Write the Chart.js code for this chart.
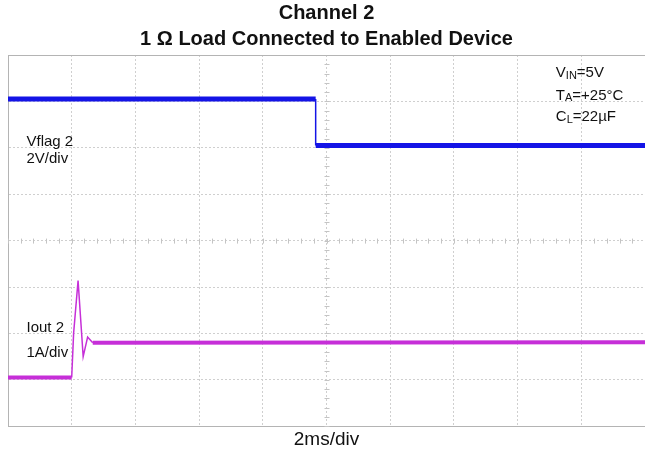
<!DOCTYPE html>
<html><head><meta charset="utf-8">
<script src="https://cdn.jsdelivr.net/npm/chart.js@4.4.0/dist/chart.umd.min.js"></script>
<style>html,body{margin:0;padding:0;background:#fff}#wrap{width:645px;height:455px;position:relative}</style>
</head><body><div id="wrap"><canvas id="c"></canvas></div>
<script>
const titleLines = ['Channel 2', '1 Ω Load Connected to Enabled Device'];
const xAxisLabel = '2ms/div';
// horizontal: time in divisions (2 ms/div); vertical: screen divisions
const vflagTime  = [0, 4.83, 4.83, 10];
const vflagLevel = [7.05, 7.05, 6.05, 6.05];
const ioutTime   = [0, 1.0, 1.03, 1.10, 1.18, 1.25, 1.33, 10];
const ioutLevel  = [1.05, 1.05, 2.0, 3.14, 1.50, 1.92, 1.80, 1.81];
const xRange = [0, 10];
const yRange = [0, 8];

const pts = (xs, ys) => xs.map((x, i) => ({x, y: ys[i]}));
const FONT = 'Arial, "Liberation Sans", sans-serif';

const frame = {
  id: 'frame',
  beforeDatasetsDraw(chart) {
    const {ctx, chartArea: a, scales: {x, y}} = chart;
    ctx.save();
    // center crosshair minor ticks
    ctx.strokeStyle = '#c4c4c4'; ctx.lineWidth = 1;
    const cx = x.getPixelForValue(5), cy = y.getPixelForValue(4);
    for (let v = xRange[0]; v <= xRange[1] + 1e-9; v += 0.2) {
      const px = Math.round(x.getPixelForValue(v)) + 0.5;
      ctx.beginPath(); ctx.moveTo(px, cy - 2); ctx.lineTo(px, cy + 3); ctx.stroke();
    }
    for (let v = yRange[0]; v <= yRange[1] + 1e-9; v += 0.2) {
      const py = Math.round(y.getPixelForValue(v)) + 0.5;
      ctx.beginPath(); ctx.moveTo(cx - 2, py); ctx.lineTo(cx + 3, py); ctx.stroke();
    }
    // solid frame on top
    ctx.strokeStyle = '#b4b4b4';
    ctx.beginPath(); ctx.moveTo(a.left, Math.round(a.top) + 0.5); ctx.lineTo(a.right, Math.round(a.top) + 0.5); ctx.stroke();
    ctx.restore();
  },
  afterDraw(chart) {
    const {ctx, scales: {x, y}} = chart;
    ctx.save();
    ctx.fillStyle = '#111';
    ctx.textBaseline = 'middle';
    const big = '15px ' + FONT, sub = '11px ' + FONT;
    const withSub = (px, py, a, s, b) => {
      ctx.font = big; ctx.fillText(a, px, py);
      let w = ctx.measureText(a).width;
      ctx.font = sub; ctx.fillText(s, px + w, py + 3);
      w += ctx.measureText(s).width;
      ctx.font = big; ctx.fillText(b, px + w, py);
    };
    const ax = x.getPixelForValue(8.6);
    withSub(ax, y.getPixelForValue(7.62), 'V', 'IN', '=5V');
    withSub(ax, y.getPixelForValue(7.13), 'T', 'A', '=+25°C');
    withSub(ax, y.getPixelForValue(6.66), 'C', 'L', '=22µF');
    ctx.font = big;
    const lx = x.getPixelForValue(0.29);
    ctx.fillText('Vflag 2', lx, y.getPixelForValue(6.12));
    ctx.fillText('2V/div', lx, y.getPixelForValue(5.76));
    ctx.fillText('Iout 2', lx, y.getPixelForValue(2.12));
    ctx.fillText('1A/div', lx, y.getPixelForValue(1.57));
    ctx.restore();
  }
};

const segW = (thick) => (c) => (Math.abs(c.p0.parsed.x - c.p1.parsed.x) < 0.5 ? 1.5 : thick);

new Chart(document.getElementById('c'), {
  type: 'line',
  data: {
    datasets: [
      {label: 'Vflag 2', data: pts(vflagTime, vflagLevel), borderColor: '#1414e6', borderWidth: 5,
       pointRadius: 0, tension: 0, segment: {borderWidth: segW(5)}},
      {label: 'Iout 2', data: pts(ioutTime, ioutLevel), borderColor: '#c62fd8', borderWidth: 4,
       pointRadius: 0, tension: 0, segment: {borderWidth: segW(4)}}
    ]
  },
  options: {
    responsive: true, maintainAspectRatio: false, animation: false,
    layout: {padding: {left: 8, right: 0, top: 0, bottom: 4}},
    plugins: {
      legend: {display: false}, tooltip: {enabled: false},
      title: {display: true, text: titleLines, color: '#111',
        font: {family: FONT, size: 20, weight: 'bold', lineHeight: 1.3},
        padding: {top: 0, bottom: 3}}
    },
    scales: {
      x: {type: 'linear', min: xRange[0], max: xRange[1],
        ticks: {display: false, stepSize: 1},
        grid: {color: '#cfcfcf', drawTicks: false},
        border: {display: true, color: '#b4b4b4', dash: [2, 2]},
        title: {display: true, text: xAxisLabel, color: '#111', font: {family: FONT, size: 19}, padding: {top: 2, bottom: 0}}},
      y: {type: 'linear', min: yRange[0], max: yRange[1],
        ticks: {display: false, stepSize: 1},
        grid: {color: '#cfcfcf', drawTicks: false},
        border: {display: true, color: '#b4b4b4', dash: [2, 2]}}
    }
  },
  plugins: [frame]
});
</script></body></html>
